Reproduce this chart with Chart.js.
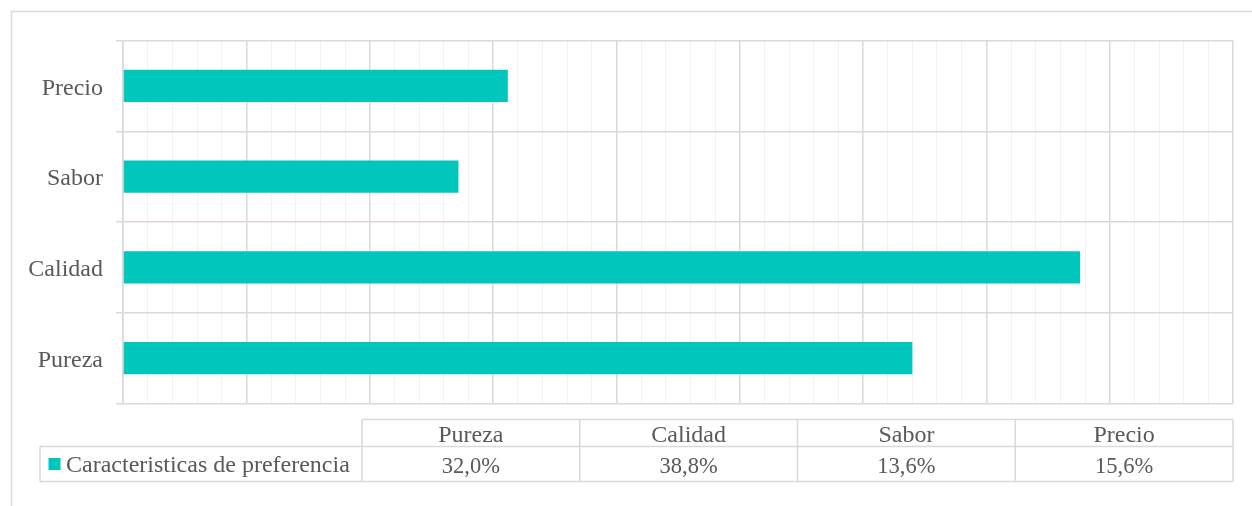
<!DOCTYPE html>
<html lang="es">
<head>
<meta charset="utf-8">
<title>Caracteristicas de preferencia</title>
<script src="https://cdn.jsdelivr.net/npm/chart.js@4/dist/chart.umd.min.js"></script>
<style>
  html, body { margin: 0; padding: 0; background: #ffffff; }
  #wrap { width: 1252px; height: 506px; position: relative; }
</style>
</head>
<body>
<div id="wrap"><canvas id="chart" width="1252" height="506"></canvas></div>
<script>
// Categories in table order (bottom bar first)
const categories = ['Pureza', 'Calidad', 'Sabor', 'Precio'];
// Share of respondents per characteristic, in percent
const preferenceValues = [32.0, 38.8, 13.6, 15.6];
const seriesName = 'Caracteristicas de preferencia';

const FONT = '"Liberation Serif", "Times New Roman", Times, serif';
const TEXT = '#595959';
const LINE = '#d9d9d9';
const MINOR = '#f2f2f2';
const BAR = '#00c6bc';

function fmtPct(v) {
  return v.toFixed(1).replace('.', ',') + '%';
}

// Outer frame of the chart object
const framePlugin = {
  id: 'frame',
  beforeDraw(chart) {
    const ctx = chart.ctx;
    ctx.save();
    ctx.strokeStyle = LINE;
    ctx.lineWidth = 1.5;
    ctx.beginPath();
    ctx.moveTo(11.5, chart.height + 2);
    ctx.lineTo(11.5, 11.5);
    ctx.lineTo(chart.width + 2, 11.5);
    ctx.stroke();
    ctx.restore();
  }
};

// Data table under the plot: header row with categories, one row of values
const dataTablePlugin = {
  id: 'dataTable',
  afterDraw(chart) {
    const ctx = chart.ctx;
    const area = chart.chartArea;
    const right = area.right;
    const colLeft = 362;
    const legendLeft = 40;
    const top = 419.5, mid = 446.5, bottom = 481.5;
    const colW = (right - colLeft) / categories.length;

    ctx.save();
    ctx.strokeStyle = LINE;
    ctx.lineWidth = 1.5;
    ctx.beginPath();
    ctx.moveTo(colLeft, top); ctx.lineTo(right, top);
    ctx.moveTo(legendLeft, mid); ctx.lineTo(right, mid);
    ctx.moveTo(legendLeft, bottom); ctx.lineTo(right, bottom);
    ctx.moveTo(legendLeft, mid); ctx.lineTo(legendLeft, bottom);
    for (let i = 0; i <= categories.length; i++) {
      const x = colLeft + i * colW;
      ctx.moveTo(x, top); ctx.lineTo(x, bottom);
    }
    ctx.stroke();

    ctx.fillStyle = TEXT;
    ctx.textAlign = 'center';
    ctx.textBaseline = 'alphabetic';
    categories.forEach((c, i) => {
      const cx = colLeft + (i + 0.5) * colW;
      ctx.font = '24px ' + FONT;
      ctx.fillText(c, cx, 441.5);
      ctx.font = '22.5px ' + FONT;
      ctx.fillText(fmtPct(preferenceValues[i]), cx, 472.5);
    });

    // legend key in the row header
    ctx.fillStyle = BAR;
    ctx.fillRect(48.5, 458, 12, 12);
    ctx.fillStyle = TEXT;
    ctx.textAlign = 'left';
    ctx.font = '24px ' + FONT;
    ctx.fillText(seriesName, 66, 471.5);
    ctx.restore();
  }
};

new Chart(document.getElementById('chart'), {
  type: 'bar',
  data: {
    labels: categories,
    datasets: [{
      label: seriesName,
      data: preferenceValues,
      backgroundColor: BAR,
      borderWidth: 0,
      barPercentage: 0.355,
      categoryPercentage: 1
    }]
  },
  options: {
    indexAxis: 'y',
    responsive: false,
    animation: false,
    layout: { padding: { top: 40.5, right: 19, bottom: 102.5, left: 0 } },
    plugins: {
      legend: { display: false },
      tooltip: { enabled: false }
    },
    scales: {
      x: {
        min: 0,
        max: 45,
        ticks: { display: false, stepSize: 1 },
        grid: {
          drawTicks: false,
          color: (c) => (c.tick && c.tick.value % 5 === 0) ? LINE : MINOR,
          lineWidth: (c) => (c.tick && c.tick.value % 5 === 0) ? 1.5 : 1
        },
        border: { display: false },
        afterFit(scale) { scale.height = 0; }
      },
      y: {
        reverse: true,
        offset: true,
        grid: {
          offset: true,
          color: LINE,
          lineWidth: 1.5,
          tickLength: 7,
          drawTicks: true
        },
        border: { color: LINE, width: 1.5 },
        ticks: {
          color: TEXT,
          font: { family: FONT, size: 24 },
          padding: 13,
          labelOffset: 2.5
        },
        afterFit(scale) { scale.width = 123; }
      }
    }
  },
  plugins: [framePlugin, dataTablePlugin]
});
</script>
</body>
</html>
